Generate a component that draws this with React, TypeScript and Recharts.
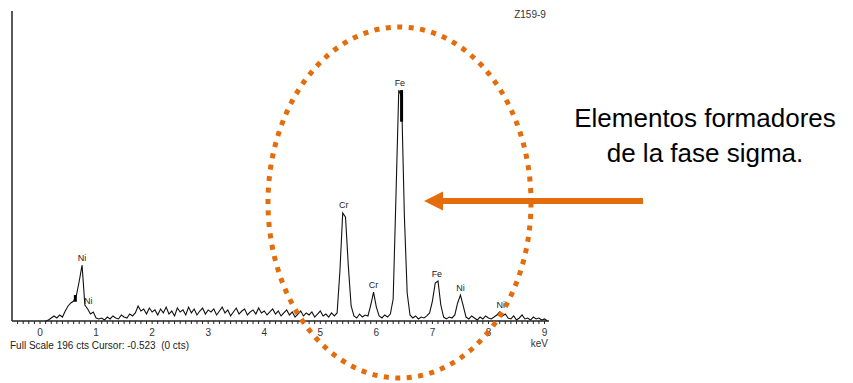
import { LineChart, Line, XAxis, YAxis, ReferenceDot, ReferenceLine } from "recharts";

// EDS spectrum, sampled every 0.05 keV starting at 0.10 keV
const energyStart = 0.1;
const energyStep = 0.05;

const counts = [
  // 0.10 - 1.05
  0, 0.6, 1.9, 3.2, 1.9, 3.8, 2.5, 6.3, 9.5, 11.4, 12.6, 16.4, 25.3, 35.4, 10.1, 7.6, 4.4, 5.7, 1.9, 1.3,
  // 1.10 - 2.05
  1.9, 0.6, 2.5, 1.3, 3.2, 1.9, 1.3, 3.8, 2.5, 1.9, 4.4, 3.2, 5.1, 9.5, 6.3, 7.6, 4.4, 8.2, 5.7, 7.0,
  // 2.10 - 3.05
  3.8, 7.6, 5.1, 8.8, 4.4, 6.3, 3.2, 8.2, 5.7, 7.0, 3.8, 8.8, 5.1, 7.6, 3.8, 6.3, 8.2, 4.4, 7.0, 5.7,
  // 3.10 - 4.05
  7.6, 3.8, 6.3, 8.8, 5.1, 7.0, 3.2, 5.7, 8.2, 4.4, 6.3, 7.6, 3.8, 5.7, 7.0, 4.4, 8.2, 5.1, 6.3, 3.8,
  // 4.10 - 5.05
  5.7, 7.6, 4.4, 6.3, 3.2, 5.1, 7.0, 3.8, 5.7, 2.5, 4.4, 6.3, 3.2, 5.1, 3.8, 5.7, 2.5, 4.4, 6.3, 3.2,
  // 5.10 - 6.05
  4.4, 2.5, 5.1, 3.2, 5.1, 31.6, 68.3, 65.7, 34.8, 9.5, 3.2, 1.9, 4.4, 2.5, 3.8, 3.2, 10.1, 18.3, 8.8, 3.2,
  // 6.10 - 7.05
  1.9, 3.8, 2.5, 4.4, 13.9, 79, 146, 141.6, 66.4, 17.7, 3.8, 1.9, 3.2, 1.3, 2.5, 1.9, 3.2, 5.1, 12.6, 24,
  // 7.10 - 8.05
  25.3, 10.1, 2.5, 1.3, 2.5, 1.9, 3.8, 11.4, 16.4, 9.5, 2.5, 1.3, 3.2, 1.9, 0.6, 2.5, 1.3, 3.2, 1.9, 1.3,
  // 8.10 - 9.05
  2.5, 3.8, 5.7, 3.2, 4.4, 1.9, 1.3, 3.2, 0.6, 1.9, 3.8, 1.3, 1.9, 0.6, 2.5, 1.3, 1.9, 0.6, 1.3, 0,
];

const peakNames = ["Ni", "Ni", "Cr", "Cr", "Fe", "Fe", "Ni", "Ni"];
const peakEnergies = [0.75, 0.86, 5.42, 5.95, 6.42, 7.08, 7.5, 8.22];
const peakCounts = [35.4, 8.2, 69, 18.3, 146, 25.3, 16.4, 5.7];

// thick cursor marks drawn on the trace
const markEnergies = [6.45, 0.63];
const markLow = [126, 12.2];
const markHigh = [146, 16.4];

const majorTicks = [0, 1, 2, 3, 4, 5, 6, 7, 8, 9];
const fullScale = 196;

const data = counts.map((c, i) => ({
  energy: +(energyStart + i * energyStep).toFixed(2),
  counts: c,
}));

const minorTicks: number[] = [];
for (let t = -4; t <= 90; t++) minorTicks.push(+(t / 10).toFixed(1));

const font = "'Liberation Sans', Arial, sans-serif";
const orange = "#E46C0A";

export default function App() {
  return (
    <div style={{ position: "absolute", left: 0, top: 0, width: 853, height: 383, background: "#fff", fontFamily: font }}>
      <LineChart width={853} height={383} data={data} margin={{ top: 11, right: 304, bottom: 0, left: 11 }}>
        <XAxis
          dataKey="energy"
          type="number"
          domain={[-0.5, 9.08]}
          allowDataOverflow
          ticks={minorTicks}
          interval={0}
          height={62}
          tickSize={3}
          tickMargin={5}
          tickFormatter={(v: number) =>
            majorTicks.some((m) => Math.abs(m - v) < 1e-6) ? String(Math.round(v)) : ""
          }
          tick={{ fontSize: 10, fill: "#333", fontFamily: font }}
          stroke="#222"
          axisLine={{ stroke: "#222", strokeWidth: 1.5 }}
        />
        <YAxis
          type="number"
          domain={[0, fullScale]}
          width={1}
          tick={false}
          tickLine={false}
          axisLine={{ stroke: "#222", strokeWidth: 1.5 }}
        />
        <Line
          type="linear"
          dataKey="counts"
          stroke="#111"
          strokeWidth={1.1}
          dot={false}
          isAnimationActive={false}
        />
        {markEnergies.map((e, i) => (
          <ReferenceLine
            key={"m" + i}
            segment={[{ x: e, y: markLow[i] }, { x: e, y: markHigh[i] }]}
            stroke="#000"
            strokeWidth={3}
          />
        ))}
        {peakNames.map((n, i) => (
          <ReferenceDot
            key={"p" + i}
            x={peakEnergies[i]}
            y={peakCounts[i]}
            r={2}
            shape={(p: any) => (
              <text x={p.cx} y={p.cy - 4} textAnchor="middle" fontSize={9} fill="#222" fontFamily={font}>
                {n}
              </text>
            )}
          />
        ))}
      </LineChart>
      <svg width={853} height={383} style={{ position: "absolute", left: 0, top: 0, pointerEvents: "none" }}>
        <text x={530} y={18} fontSize={10} fill="#333" textAnchor="middle" fontFamily={font}>Z159-9</text>
        <text x={10} y={349} fontSize={10} fill="#222" fontFamily={font} style={{ whiteSpace: "pre" }}>
          {"Full Scale 196 cts Cursor: -0.523  (0 cts)"}
        </text>
        <text x={548} y={347} fontSize={10} fill="#333" textAnchor="end" fontFamily={font}>keV</text>
        <ellipse
          cx={399.5}
          cy={202.5}
          rx={131.5}
          ry={175.5}
          fill="none"
          stroke={orange}
          strokeWidth={5}
          strokeDasharray="5 6.5"
        />
        <line x1={643} y1={201} x2={440} y2={201} stroke={orange} strokeWidth={6} />
        <polygon points="424,201 443,191.5 443,210.5" fill={orange} />
        <text x={705} y={127} fontSize={26} fill="#000" textAnchor="middle" fontFamily={font}>Elementos formadores</text>
        <text x={705} y={162} fontSize={26} fill="#000" textAnchor="middle" fontFamily={font}>de la fase sigma.</text>
      </svg>
    </div>
  );
}
